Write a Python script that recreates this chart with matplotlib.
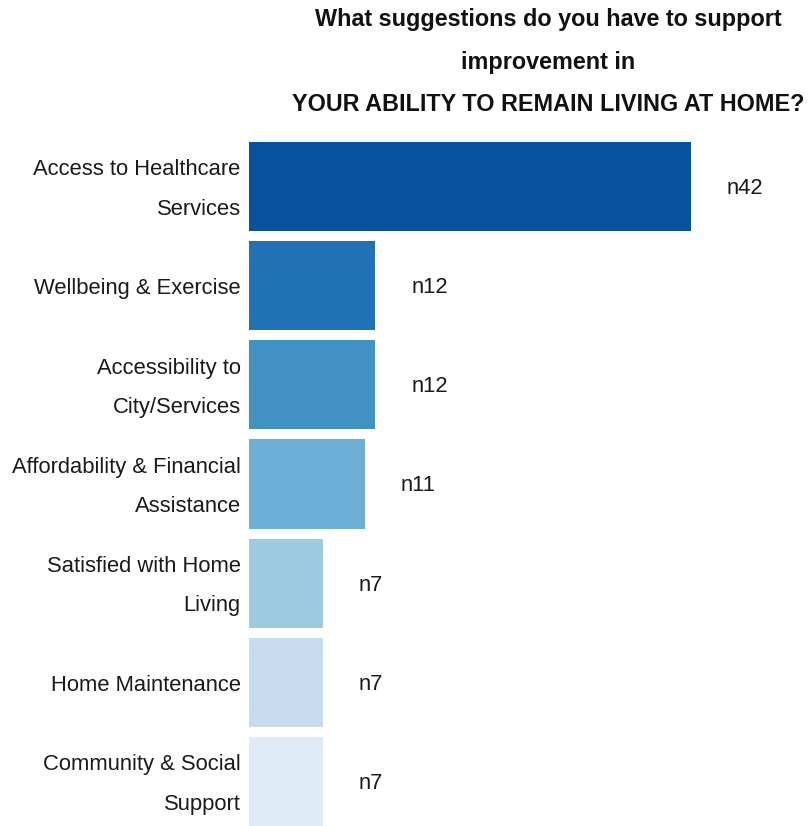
import matplotlib
matplotlib.use('Agg')
import matplotlib.pyplot as plt

plt.rcParams['font.family'] = ['Liberation Sans', 'DejaVu Sans']

categories = ['Access to Healthcare\nServices', 'Wellbeing & Exercise', 'Accessibility to\nCity/Services',
              'Affordability & Financial\nAssistance', 'Satisfied with Home\nLiving', 'Home Maintenance',
              'Community & Social\nSupport']
counts = [42, 12, 12, 11, 7, 7, 7]
labels = ['n42', 'n12', 'n12', 'n11', 'n7', 'n7', 'n7']
colors = ['#08519c', '#2171b5', '#4292c6', '#6baed6', '#9ecae1', '#c6dbef', '#deebf7']

fig = plt.figure(figsize=(8.08, 8.26), dpi=100)
ax = fig.add_axes([249 / 808, 0, 559 / 808, 684 / 826])

ypos = list(range(len(categories)))
ax.barh(ypos, counts, height=0.9, color=colors)
ax.set_ylim(6.45, -0.45)
ax.set_xlim(0, 53.1)

for y, c, lab in zip(ypos, counts, labels):
    ax.text(c + 3.4, y + 0.02, lab, va='center', ha='left', fontsize=15.8, color='#1a1a1a')

# tick marks are hidden, so nudge the label positions slightly down
ax.set_yticks([y + 0.03 for y in ypos])
ax.set_yticklabels(categories, fontsize=15.8, linespacing=2.15, color='#1a1a1a', va='center')
ax.tick_params(axis='y', length=0, pad=6)
ax.set_xticks([])
for s in ax.spines.values():
    s.set_visible(False)

fig.text(548 / 808, 1 - 62 / 826,
         'What suggestions do you have to support\nimprovement in\nYOUR ABILITY TO REMAIN LIVING AT HOME?',
         ha='center', va='center', fontsize=16.8, fontweight='bold', linespacing=2.1, color='#111111')

fig.savefig('out.png', dpi=100)
